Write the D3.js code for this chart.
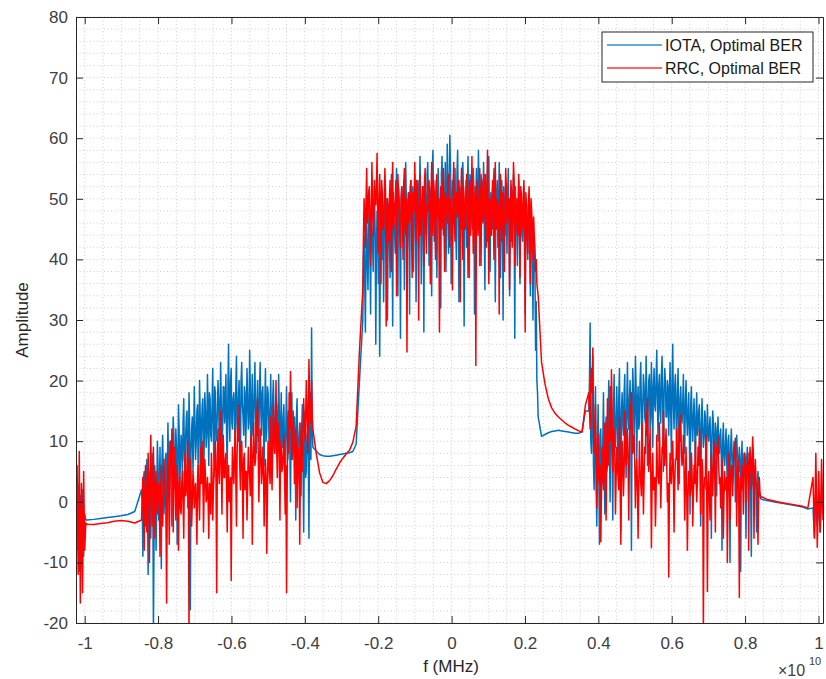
<!DOCTYPE html>
<html>
<head>
<meta charset="utf-8">
<script src="https://cdn.jsdelivr.net/npm/d3@7"></script>
<style>
html,body{margin:0;padding:0;background:#fff;}
svg{display:block;font-family:"Liberation Sans",Arial,Helvetica,sans-serif;}
</style>
</head>
<body>
<svg id="chart" width="826" height="679"></svg>
<script>
// ---------- axis data ----------
const xTicks = [-1, -0.8, -0.6, -0.4, -0.2, 0, 0.2, 0.4, 0.6, 0.8, 1];
const xTickLabels = ["-1", "-0.8", "-0.6", "-0.4", "-0.2", "0", "0.2", "0.4", "0.6", "0.8", "1"];
const yTicks = [-20, -10, 0, 10, 20, 30, 40, 50, 60, 70, 80];
const yTickLabels = ["-20", "-10", "0", "10", "20", "30", "40", "50", "60", "70", "80"];
const xDomain = [-1.0237, 1.0123];
const yDomain = [-20, 80];
const seriesNames = ["IOTA, Optimal BER", "RRC, Optimal BER"];
// frequency breakpoints (x1e10) of the spectrum segments
const bandEdges = [-1.0237, -0.994, -0.845, -0.378, -0.242, 0.236, 0.374, 0.846, 0.985, 1.0123];

// ---------- IOTA (blue) amplitudes per segment ----------
const iotaEdgeL = [-2, -8, 2.8, -11.5, 1, -6, 2, -9, -2, -3];
const iotaFlatL = [-3.0, -2.9, -2.75, -2.6, -2.45, -2.3, -2.1, -1.6];
const iotaBandL = [
  2, -9, 5, -4, 7, -12, 3, -6, 8, -22,
  6, -8, 10, -3, 9, -11, 11, -2, 7, -6,
  13, 1, 10, -4, 14, 3, 12, -7, 16, 2,
  11, 4, 17, 6, 14, -1, 18, -17.8, 12, 5,
  19, 7, 15, 3, 20, 8, 16, 1, 18, 9,
  21, 6, 17, 10, 22, 4, 18, 11, 20, 7,
  23, 9, 19, 13, 21, 5, 26, 10, 22, 12,
  18, 8, 24, 11, 20, 6, 23, 14, 19, 9,
  22, 12, 25, 7, 21, 13, 23, 8, 20, 10,
  23, 11, 19, 6, 22, 12, 18, 4, 21, 9,
  20, 8, 17, 10, 21, 3, 18, 9, 16, 2,
  19, 7, 15, 0, 18, 8, 14, -3, 17, 6,
  13, 1, 16, -5, 15, 5, 12, -6, 18, 28.7
];
const iotaBandLMid = [
  0, 4, -3, 3, -1, 5, -2, 2, 4, -5,
  3, 0, 6, 2, -1, 7, 4, 1, 8, 3,
  6, 10, 4, 8, 11, 2, 9, 5, 12, 7,
  9, 13, 7, 11, 15, 5, 12, 8, 14, 10,
  13, 10, 16, 8, 14, 12, 17, 9, 15, 11,
  14, 18, 11, 16, 12, 19, 10, 15, 17, 13,
  16, 12, 19, 15, 11, 18, 14, 20, 13, 17,
  15, 19, 13, 17, 12, 20, 16, 11, 18, 14,
  17, 13, 19, 15, 11, 18, 14, 16, 12, 19,
  15, 18, 12, 16, 10, 19, 13, 15, 11, 17,
  14, 11, 16, 9, 15, 12, 10, 14, 8, 13,
  11, 15, 9, 13, 7, 12, 10, 14, 6, 11,
  9, 12, 6, 10, 4, 11, 8, 13, 7, 12
];
const iotaGapL = [9, 8.4, 7.8, 7.6, 7.5, 7.5, 7.6, 7.7, 7.8, 7.9, 8.0, 8.1, 8.3, 9.5, 20];
const iotaMain = [
  30, 44, 28, 47, 35, 50, 31, 45, 38, 52,
  26, 48, 36, 24, 51, 40, 33, 53, 42, 30,
  49, 37, 54, 29, 46, 41, 55, 34, 50, 27,
  52, 43, 35, 56, 39, 48, 31, 53, 45, 38,
  54, 33, 50, 42, 57, 36, 47, 28, 52, 44,
  56, 39, 51, 34, 58, 43, 49, 37, 55, 46,
  32, 57, 44, 50, 38, 59, 41, 60.5, 36, 53,
  47, 55, 40, 58, 33, 51, 45, 56, 29, 49,
  42, 57, 37, 53, 46, 55, 31, 50, 44, 58,
  39, 54, 47, 56, 35, 52, 43, 57, 38, 50,
  45, 55, 33, 51, 42, 56, 37, 53, 30, 48,
  52, 41, 55, 34, 49, 44, 54, 27, 47, 39,
  53, 36, 50, 43, 52, 31, 46, 40, 49, 34,
  45, 30, 41, 25, 20
];
const iotaMainMid = [
  40, 36, 42, 39, 45, 41, 46, 43, 48, 44,
  42, 45, 47, 40, 46, 49, 44, 47, 50, 45,
  43, 48, 46, 51, 44, 49, 47, 52, 45, 50,
  48, 53, 46, 50, 44, 51, 49, 47, 52, 46,
  50, 45, 53, 48, 51, 44, 52, 49, 47, 54,
  49, 52, 46, 55, 50, 48, 53, 45, 51, 49,
  54, 48, 51, 56, 47, 52, 50, 55, 49, 53,
  50, 46, 54, 49, 52, 47, 55, 51, 48, 53,
  51, 47, 54, 50, 45, 52, 49, 55, 48, 51,
  47, 53, 50, 46, 54, 49, 52, 45, 51, 48,
  52, 46, 50, 53, 47, 51, 45, 49, 52, 44,
  48, 51, 46, 50, 43, 49, 47, 52, 45, 48,
  46, 50, 44, 48, 41, 47, 45, 49, 43, 46,
  42, 44, 38, 33, 18
];
const iotaGapR = [14, 10.8, 11.1, 11.4, 11.6, 11.7, 11.8, 11.7, 11.6, 11.5, 11.4, 11.3, 11.3, 11.6, 15];
const iotaBandR = [
  15, 29.5, 8, 24, 2, 19, -4, 16, -7, 12,
  3, 18, -2, 14, 6, 20, 0, 17, -3, 21,
  9, 19, 5, 22, -5, 18, 11, 21, 4, 23,
  12, 20, -8, 22, 10, 24, 7, 19, 13, 23,
  8, 21, 14, 24, 6, 20, 12, 23, 9, 22,
  15, 25, 10, 21, 13, 24, 5, 22, 14, 20,
  11, 23, 7, 26, 12, 21, 9, 22, 3, 19,
  13, 21, 8, 20, 11, 18, -2, 19, 10, 17,
  6, 18, 12, 16, -4, 17, 9, 15, 2, 16,
  10, 14, -6, 15, 7, 13, 1, 14, 8, 12,
  -8, 13, 6, 12, 2, 11, -10, 12, 5, 10,
  0, 11, 7, 9, -11.5, 10, 4, 8, -6, 9,
  3, 8, -9, 7, 2, 6, -5, 5, 1, 0.5
];
const iotaBandRMid = [
  20, 10, 14, 6, 12, 3, 9, 5, 11, 4,
  10, 7, 12, 5, 14, 9, 13, 8, 15, 11,
  14, 12, 17, 10, 15, 13, 18, 11, 16, 14,
  17, 13, 15, 18, 14, 19, 16, 12, 20, 15,
  16, 19, 13, 18, 15, 21, 14, 17, 19, 16,
  20, 17, 19, 15, 21, 16, 18, 20, 14, 19,
  17, 15, 20, 16, 19, 14, 18, 13, 17, 15,
  16, 12, 17, 14, 15, 11, 16, 13, 14, 12,
  14, 11, 15, 10, 13, 12, 11, 14, 9, 12,
  12, 9, 11, 13, 8, 12, 10, 9, 11, 7,
  10, 8, 9, 7, 10, 6, 9, 8, 7, 9,
  6, 8, 5, 7, 6, 4, 8, 3, 7, 5,
  6, 2, 5, 3, 4, 1, 3, 2, 1, 0.5
];
const iotaFlatR = [0.4, 0.2, 0.05, -0.1, -0.25, -0.4, -0.55, -0.7, -0.85, -1.2];
const iotaEdgeR = [-1, -5.8, 2, -4, 0, -5, 1, -2];

// ---------- RRC (red) amplitudes per segment ----------
const rrcEdgeL = [-4, 6, -12, 8.3, -16.7, 3, -15, 5, -8, -3.5];
const rrcFlatL = [-3.7, -3.75, -3.6, -3.45, -3.2, -3.1, -3.2, -3.5];
const rrcBandL = [
  -3, 4, -8, 6, -5, 8, -10, 11, -4, 9,
  -6, 5, -2, 3, -9, 6, -4, 7, 1, -16.7,
  8, -7, 10, 12, -5, 9, -3, 6, -8, 4,
  -2, 5, -6, 8, 2, 10, -22, 7, -4, 5,
  -1, 3, -7, 6, -3, 9, 10, -5, 7, 0,
  4, -6, 2, 8, -3, 5, 10, -15, 12, 3,
  15, -2, 11, 4, 8, -5, 6, 1, -13, 9,
  3, 12, -4, 14, 16, 2, 10, -6, 8, 5,
  -3, 9, 4, 11, -7, 13, 6, 15, 17, 0,
  12, 3, 9, -4, 7, -8.5, 10, 5, 14, 2,
  16, 8, 20, 4, 13, -3, 9, 6, 11, -2,
  -15, 14, 18, 21.5, 7, 15, 3, 12, -1, 9,
  -7, 13, 5, 17, 10, 20, 8, 23.5, 15, 20
];
const rrcBandLMid = [
  1, -2, 2, -1, 3, 0, 4, 2, 5, 1,
  2, -1, 3, 0, 2, -2, 1, 3, -1, 2,
  4, 1, 6, 7, 3, 5, 0, 4, 2, -1,
  3, 0, 4, 1, 6, 3, 5, 2, 0, 3,
  2, -1, 4, 1, 5, 3, 6, 2, 4, 1,
  0, 3, -2, 4, 2, 6, 3, 7, 5, 8,
  6, 9, 4, 7, 2, 5, 0, 4, 2, 5,
  7, 4, 8, 10, 6, 9, 4, 7, 2, 5,
  3, 6, 1, 8, 5, 9, 7, 11, 8, 6,
  8, 5, 6, 2, 4, 1, 6, 3, 7, 9,
  10, 12, 9, 13, 7, 10, 5, 8, 4, 6,
  3, 8, 12, 15, 10, 11, 7, 9, 5, 8,
  4, 9, 11, 13, 14, 16, 12, 17, 13, 14
];
const rrcGapL = [12, 8, 4.8, 3.2, 3.0, 3.5, 4.3, 5.4, 6.4, 7.2, 7.9, 8.5, 9.8, 12.5, 25];
const rrcMain = [
  35, 50, 42, 55, 47, 52, 39, 56, 44, 53,
  49, 57.5, 41, 54, 36, 51, 45, 55, 29, 50,
  43, 53, 38, 56, 46, 50, 34, 54, 48, 42,
  52, 40, 55, 44, 24.7, 51, 47, 53, 37, 49,
  56, 43, 50, 30, 54, 45, 52, 39, 55, 41,
  48, 53, 36, 56, 44, 51, 40, 54, 47, 28,
  52, 45, 55, 38, 50, 46, 54, 42, 49, 35,
  56, 43, 51, 47, 53, 33, 55, 40, 50, 45,
  54, 37, 52, 44, 57, 41, 49, 22.5, 53, 46,
  55, 39, 51, 47, 54, 42, 58, 36, 50, 44,
  53, 40, 56, 45, 49, 31, 54, 43, 51, 38,
  55, 46, 50, 35, 53, 42, 56, 39, 48, 44,
  54, 37, 51, 45, 53, 28, 49, 41, 52, 36,
  48, 40, 44, 38, 36
];
const rrcMainMid = [
  44, 47, 50, 46, 51, 48, 45, 50, 47, 49,
  52, 46, 50, 48, 53, 45, 49, 51, 44, 48,
  50, 47, 52, 45, 49, 53, 46, 51, 44, 50,
  47, 52, 45, 50, 48, 46, 52, 44, 51, 48,
  49, 53, 46, 51, 44, 50, 47, 53, 45, 49,
  52, 46, 50, 48, 53, 45, 51, 47, 50, 44,
  48, 52, 46, 51, 49, 53, 45, 50, 47, 52,
  46, 50, 48, 53, 44, 51, 47, 52, 45, 49,
  51, 46, 53, 48, 50, 45, 52, 47, 50, 44,
  49, 53, 46, 51, 45, 52, 48, 50, 44, 51,
  47, 52, 45, 50, 48, 53, 46, 51, 44, 49,
  52, 47, 50, 45, 51, 48, 53, 46, 50, 44,
  49, 52, 46, 50, 47, 51, 44, 49, 46, 50,
  45, 47, 42, 40, 35
];
const rrcGapR = [34, 23, 19.5, 17, 15.5, 14.6, 14, 13.5, 13, 12.6, 12.3, 12, 11.7, 11.5, 16];
const rrcBandR = [
  18, 12, 22, 25.4, 8, 16, -1, 11, 3, -6.6,
  9, 2, 13, -3, 17, 8, 19, 21.8, 5, 12,
  -2, 9, 4, 14, -7, 10, 1, 15, 6, 12,
  -3, 16, 18, 8, 11, -1, 7, -6, 10, 3,
  13, -2, 9, 15, 17, 5, 12, -7.6, 8, 2,
  -4, 11, 4, 13, -1, 9, 15, 6, 12, 0,
  -12.4, 8, 3, 10, -5, 7, 12, 2, 13, 14.4,
  6, 11, -3, 9, -8, 5, 1, 8, -4, 6,
  10, 0, 9, 12, -2, 7, -22, 4, 11, -14.8,
  5, -3, 8, 1, 10, -5, 9, 10.7, 3, -1,
  7, -6, 5, 2, -10, 8, -3, 6, 1, 9,
  10.5, -4, 7, -15.8, 4, 6, -2, 8, 0, 5,
  -8, 9, 2, 10.7, -6, 7, 3, -7, 4, 0.8
];
const rrcBandRMid = [
  15, 20, 18, 14, 10, 6, 8, 4, 6, 2,
  5, 7, 3, 9, 6, 12, 10, 15, 11, 8,
  4, 6, 2, 8, 3, 7, 5, 9, 10, 6,
  8, 12, 13, 10, 6, 4, 3, 2, 5, 1,
  6, 4, 8, 11, 10, 8, 5, 3, 2, 4,
  1, 5, 3, 7, 4, 8, 10, 9, 6, 3,
  2, 4, 6, 5, 3, 7, 8, 9, 10, 8,
  7, 5, 3, 2, 1, 4, 2, 5, 1, 3,
  5, 3, 6, 8, 7, 5, 2, 4, 3, 2,
  1, 3, 4, 6, 5, 7, 8, 6, 4, 2,
  3, 1, 2, 4, 1, 5, 3, 6, 5, 7,
  6, 4, 3, 1, 2, 5, 4, 7, 6, 8,
  5, 7, 6, 8, 4, 3, 2, 1, 1.5, 0.8
];
const rrcFlatR = [0.8, 0.4, 0.2, 0, -0.15, -0.3, -0.45, -0.6, -0.75, -1.0];
const rrcEdgeR = [4, -6, 8, -7.5, 5, -5, 7, -3];

const iotaSegments = [iotaEdgeL, iotaFlatL, iotaBandL, iotaGapL, iotaMain, iotaGapR, iotaBandR, iotaFlatR, iotaEdgeR];
const iotaMids = [null, null, iotaBandLMid, null, iotaMainMid, null, iotaBandRMid, null, null];
const rrcSegments = [rrcEdgeL, rrcFlatL, rrcBandL, rrcGapL, rrcMain, rrcGapR, rrcBandR, rrcFlatR, rrcEdgeR];
const rrcMids = [null, null, rrcBandLMid, null, rrcMainMid, null, rrcBandRMid, null, null];
const seriesColors = ["#0072BD", "#FF0000"];

// build (f, amplitude) points: samples (and the in-between samples, when given)
// are spread evenly over each segment's band
function buildSeries(segments, mids) {
  const pts = [];
  segments.forEach((vals, s) => {
    let seq = vals;
    if (mids[s]) {
      seq = [];
      vals.forEach((v, i) => { seq.push(v); if (i < mids[s].length) seq.push(mids[s][i]); });
    }
    const f0 = bandEdges[s], f1 = bandEdges[s + 1];
    const last = s === segments.length - 1;
    const n = last ? seq.length - 1 : seq.length;
    seq.forEach((v, i) => pts.push([f0 + (f1 - f0) * i / n, v]));
  });
  return pts;
}
const series = [buildSeries(iotaSegments, iotaMids), buildSeries(rrcSegments, rrcMids)];

// ---------- layout ----------
const plot = {left: 76, right: 823, top: 17, bottom: 623};
const svg = d3.select("#chart");
const x = d3.scaleLinear().domain(xDomain).range([plot.left, plot.right]);
const y = d3.scaleLinear().domain(yDomain).range([plot.bottom, plot.top]);

svg.append("rect").attr("x", plot.left).attr("y", plot.top)
  .attr("width", plot.right - plot.left).attr("height", plot.bottom - plot.top)
  .attr("fill", "#fff");

// grid (major + minor, dotted)
const xMinor = d3.range(-20, 21).map(k => k * 0.05).filter(v => v >= xDomain[0] && v <= xDomain[1]);
const yMinor = d3.range(-10, 41).map(k => k * 2);
const grid = svg.append("g").attr("fill", "none");
grid.selectAll("line.gx").data(xMinor).join("line")
  .attr("x1", d => x(d)).attr("x2", d => x(d))
  .attr("y1", plot.top).attr("y2", plot.bottom)
  .attr("stroke", "#cfcfcf").attr("stroke-width", 1).attr("stroke-dasharray", "1,2.5");
grid.selectAll("line.gy").data(yMinor).join("line")
  .attr("y1", d => y(d)).attr("y2", d => y(d))
  .attr("x1", plot.left).attr("x2", plot.right)
  .attr("stroke", "#cfcfcf").attr("stroke-width", 1).attr("stroke-dasharray", "1,2.5");

// clip
svg.append("clipPath").attr("id", "clip").append("rect")
  .attr("x", plot.left).attr("y", plot.top)
  .attr("width", plot.right - plot.left).attr("height", plot.bottom - plot.top);

const line = d3.line().x(d => x(d[0])).y(d => y(d[1]));
const lines = svg.append("g").attr("clip-path", "url(#clip)");
series.forEach((pts, i) => {
  lines.append("path").datum(pts)
    .attr("d", line)
    .attr("fill", "none")
    .attr("stroke", seriesColors[i])
    .attr("stroke-width", 1.5)
    .attr("stroke-linejoin", "round");
});

// axes (ticks inside, box on)
const axisColor = "#262626";
const tickLen = 7;
function styleAxis(g) {
  g.selectAll("path.domain").attr("stroke", axisColor).attr("stroke-width", 1);
  g.selectAll(".tick line").attr("stroke", axisColor).attr("stroke-width", 1);
  g.selectAll(".tick text").attr("fill", "#404040").attr("font-size", "17px")
    .attr("font-family", "'Liberation Sans', Arial, sans-serif");
}
svg.append("g").attr("transform", `translate(0,${plot.bottom})`)
  .call(d3.axisBottom(x).tickValues(xTicks).tickSize(-tickLen).tickSizeOuter(0).tickPadding(14)
    .tickFormat((d, i) => xTickLabels[i]))
  .call(styleAxis);
svg.append("g").attr("transform", `translate(0,${plot.top})`)
  .call(d3.axisTop(x).tickValues(xTicks).tickSize(-tickLen).tickSizeOuter(0).tickFormat(""))
  .call(styleAxis);
svg.append("g").attr("transform", `translate(${plot.left},0)`)
  .call(d3.axisLeft(y).tickValues(yTicks).tickSize(-tickLen).tickSizeOuter(0).tickPadding(8)
    .tickFormat((d, i) => yTickLabels[i]))
  .call(styleAxis);
svg.append("g").attr("transform", `translate(${plot.right},0)`)
  .call(d3.axisRight(y).tickValues(yTicks).tickSize(-tickLen).tickSizeOuter(0).tickFormat(""))
  .call(styleAxis);

// axis labels
svg.append("text").attr("x", 451).attr("y", 672).attr("text-anchor", "middle")
  .attr("font-size", "17px").attr("fill", "#262626").text("f (MHz)");
svg.append("text").attr("transform", "translate(28,320) rotate(-90)").attr("text-anchor", "middle")
  .attr("font-size", "17px").attr("fill", "#262626").text("Amplitude");
// exponent
const expo = svg.append("g").attr("fill", "#404040");
expo.append("text").attr("x", 778).attr("y", 676).attr("font-size", "16px").text("\u00d710");
expo.append("text").attr("x", 809).attr("y", 665).attr("font-size", "11px").text("10");

// legend
const lg = svg.append("g");
lg.append("rect").attr("x", 602).attr("y", 32).attr("width", 211).attr("height", 50)
  .attr("fill", "#fff").attr("stroke", axisColor).attr("stroke-width", 1);
seriesNames.forEach((name, i) => {
  const cy = 45 + i * 23;
  lg.append("line").attr("x1", 607).attr("x2", 662).attr("y1", cy).attr("y2", cy)
    .attr("stroke", seriesColors[i]).attr("stroke-width", 1.5).attr("stroke-opacity", 0.8);
  lg.append("text").attr("x", 665).attr("y", cy + 6).attr("font-size", "16px")
    .attr("fill", "#1a1a1a").text(name);
});
</script>
</body>
</html>
